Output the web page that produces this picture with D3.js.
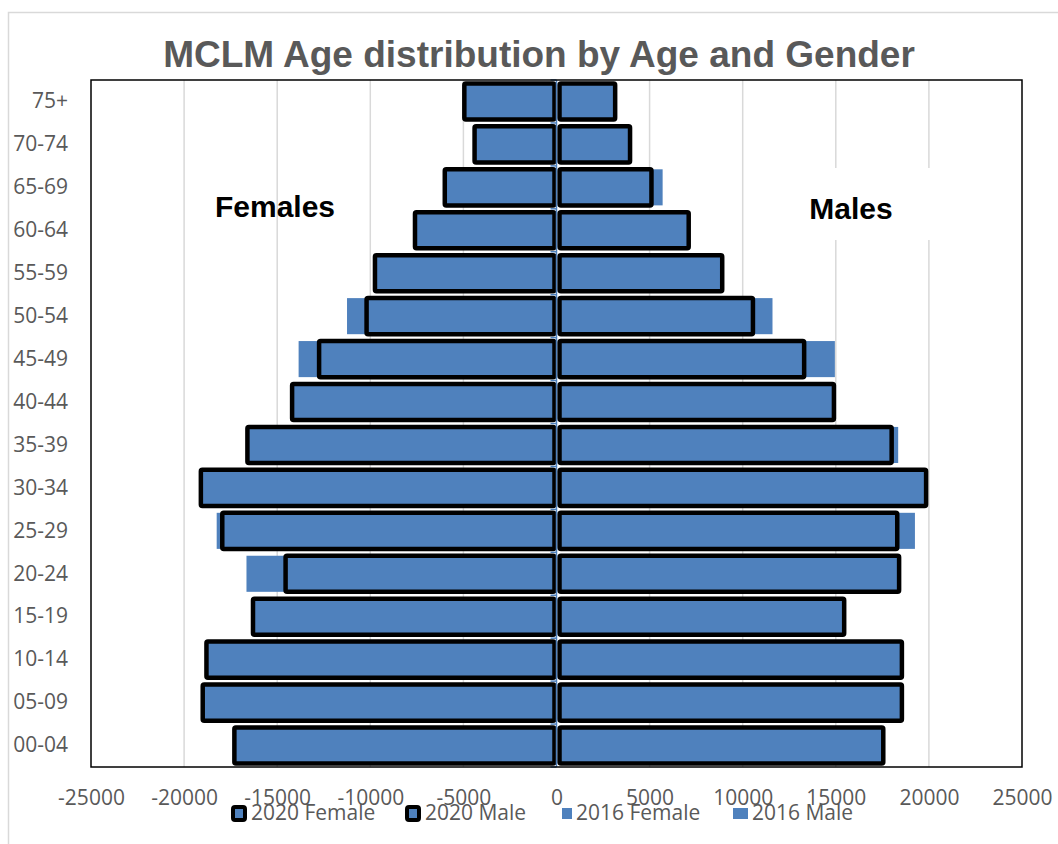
<!DOCTYPE html>
<html>
<head>
<meta charset="utf-8">
<script src="https://cdn.jsdelivr.net/npm/d3@7"></script>
<style>
  body { margin: 0; background: #fff; }
  svg { display: block; }
</style>
</head>
<body>
<svg id="chart" width="1058" height="844"></svg>
<script>
// age groups, top to bottom
const ageGroups = ["75+", "70-74", "65-69", "60-64", "55-59", "50-54", "45-49", "40-44",
    "35-39", "30-34", "25-29", "20-24", "15-19", "10-14", "05-09", "00-04"];

// females as negative values
const female2020 = [-4950, -4400, -6000, -7600, -9750, -10200, -12750, -14200,
    -16600, -19100, -17950, -14550, -16300, -18800, -19000, -17300];
const male2020 = [3150, 3950, 5100, 7100, 8900, 10550, 13300, 14900,
    18000, 19850, 18300, 18400, 15450, 18550, 18550, 17550];
const female2016 = [-4500, -4000, -5700, -7200, -9500, -11250, -13850, -14000,
    -16300, -18800, -18250, -16650, -16000, -18500, -18700, -17000];
const male2016 = [2800, 3600, 5700, 6800, 8700, 11600, 14950, 14700,
    18350, 19600, 19250, 18000, 15200, 18300, 18300, 17300];

const xTicks = [-25000, -20000, -15000, -10000, -5000, 0, 5000, 10000, 15000, 20000, 25000];
const legendItems = [
    { label: "2020 Female", outlined: true },
    { label: "2020 Male", outlined: true },
    { label: "2016 Female", outlined: false },
    { label: "2016 Male", outlined: false }
];

const barBlue = "#4f81bd";
const textGrey = "#595959";
const gridGrey = "#d9d9d9";
const tickFont = "'Open Sans', 'DejaVu Sans', sans-serif";

const svg = d3.select("#chart");
const plot = { left: 91, right: 1022, top: 80, bottom: 767 };

const x = d3.scaleLinear().domain([-25000, 25000]).range([plot.left, plot.right]);
const y = d3.scaleBand().domain(ageGroups).range([plot.top, plot.bottom])
    .paddingInner(0.16).paddingOuter(0.08);

// outer chart frame
svg.append("rect")
    .attr("x", 8.5).attr("y", 12.5)
    .attr("width", 1200).attr("height", 1000)
    .attr("fill", "#fff")
    .attr("stroke", gridGrey).attr("stroke-width", 1.5);

// title
svg.append("text")
    .attr("x", 539).attr("y", 67)
    .attr("text-anchor", "middle")
    .attr("font-family", "Arial, 'Liberation Sans', sans-serif")
    .attr("font-weight", "bold")
    .attr("font-size", 37)
    .attr("fill", textGrey)
    .text("MCLM Age distribution by Age and Gender");

// gridlines
svg.append("g").selectAll("line")
    .data(xTicks.filter(d => d !== 0 && Math.abs(d) < 25000))
    .join("line")
    .attr("x1", d => x(d)).attr("x2", d => x(d))
    .attr("y1", plot.top).attr("y2", plot.bottom)
    .attr("stroke", gridGrey).attr("stroke-width", 1.5);

// "Females" label (drawn over grid, no box)
svg.append("text")
    .attr("x", 275).attr("y", 217)
    .attr("text-anchor", "middle")
    .attr("font-family", "Arial, 'Liberation Sans', sans-serif")
    .attr("font-weight", "bold").attr("font-size", 30)
    .attr("fill", "#000")
    .text("Females");

// "Males" label sits in a white box
svg.append("rect")
    .attr("x", 766).attr("y", 168)
    .attr("width", 170).attr("height", 72)
    .attr("fill", "#fff");
svg.append("text")
    .attr("x", 851).attr("y", 219)
    .attr("text-anchor", "middle")
    .attr("font-family", "Arial, 'Liberation Sans', sans-serif")
    .attr("font-weight", "bold").attr("font-size", 30)
    .attr("fill", "#000")
    .text("Males");

const x0 = x(0);

function drawBars(values, outlined, isFemale) {
    const g = svg.append("g");
    g.selectAll("rect")
        .data(values.map((v, i) => ({ v, age: ageGroups[i] })))
        .join("rect")
        .attr("x", d => isFemale ? x(d.v) : x0 + 3)
        .attr("width", d => isFemale ? x0 - 2 - x(d.v) : x(d.v) - x0 - 3)
        .attr("y", d => y(d.age))
        .attr("height", y.bandwidth())
        .attr("rx", outlined ? 1.5 : 0)
        .attr("fill", barBlue)
        .attr("stroke", outlined ? "#000" : "none")
        .attr("stroke-width", outlined ? 4.5 : 0)
        .attr("stroke-linejoin", "round");
}

// 2016 behind, 2020 in front
drawBars(female2016, false, true);
drawBars(male2016, false, false);
drawBars(female2020, true, true);
drawBars(male2020, true, false);

// centre category axis
const centreAxis = svg.append("g");
centreAxis.append("line")
    .attr("x1", x0).attr("x2", x0)
    .attr("y1", plot.top).attr("y2", plot.bottom)
    .attr("stroke", barBlue).attr("stroke-width", 1.5);
centreAxis.selectAll("line.tick")
    .data(d3.range(ageGroups.length + 1))
    .join("line")
    .attr("class", "tick")
    .attr("x1", x0 - 6).attr("x2", x0)
    .attr("y1", i => plot.top + i * y.step())
    .attr("y2", i => plot.top + i * y.step())
    .attr("stroke", barBlue).attr("stroke-width", 1.5);

// plot area border
svg.append("rect")
    .attr("x", plot.left).attr("y", plot.top)
    .attr("width", plot.right - plot.left).attr("height", plot.bottom - plot.top)
    .attr("fill", "none")
    .attr("stroke", "#000").attr("stroke-width", 1.5);

// age labels on the left
const yAxis = svg.append("g")
    .attr("transform", `translate(${plot.left - 23},0)`)
    .call(d3.axisLeft(y).tickSize(0).tickPadding(0));
yAxis.select(".domain").remove();
yAxis.selectAll("text")
    .attr("font-family", tickFont)
    .attr("font-size", 21)
    .attr("fill", textGrey);

// value labels along the bottom (plain hyphen minus, as in the source)
const xAxis = svg.append("g")
    .attr("transform", `translate(0,${plot.bottom})`)
    .call(d3.axisBottom(x).tickValues(xTicks).tickSize(0).tickPadding(0)
        .tickFormat(d => String(d)));
xAxis.select(".domain").remove();
xAxis.selectAll("text")
    .attr("dy", 0)
    .attr("y", 38)
    .attr("font-family", tickFont)
    .attr("font-size", 21)
    .attr("fill", textGrey);

// legend
const legendX = [231, 405, 561, 733];
const legend = svg.append("g");
legendItems.forEach((item, i) => {
    const lg = legend.append("g").attr("transform", `translate(${legendX[i]},805)`);
    if (item.outlined) {
        lg.append("rect")
            .attr("x", 2).attr("y", 2).attr("width", 12).attr("height", 13)
            .attr("rx", 2)
            .attr("fill", barBlue).attr("stroke", "#000").attr("stroke-width", 4);
    } else {
        lg.append("rect")
            .attr("x", i === 2 ? 1 : 0).attr("y", 3)
            .attr("width", i === 2 ? 10 : 15).attr("height", 11)
            .attr("fill", barBlue);
    }
    lg.append("text")
        .attr("x", item.outlined ? 20 : (i === 2 ? 15 : 19))
        .attr("y", 15)
        .attr("font-family", tickFont)
        .attr("font-size", 21)
        .attr("fill", textGrey)
        .text(item.label);
});
</script>
</body>
</html>
